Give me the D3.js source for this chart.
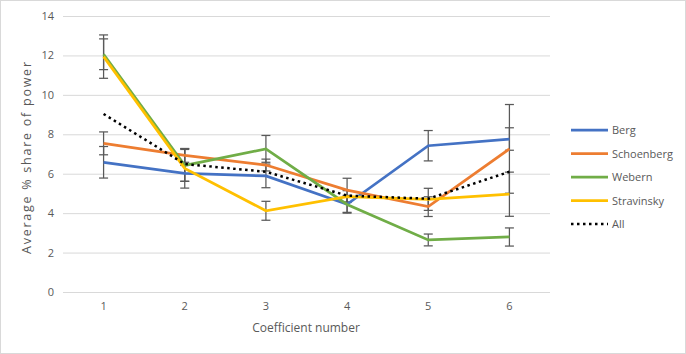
<!DOCTYPE html>
<html>
<head>
<meta charset="utf-8">
<script src="https://cdn.jsdelivr.net/npm/d3@7"></script>
<style>
  body { margin: 0; background: #fff; }
  text { font-family: "Open Sans", sans-serif; fill: #595959; }
</style>
</head>
<body>
<svg width="686" height="354"></svg>
<script>
var categories = [1, 2, 3, 4, 5, 6];
var yTicks = [0, 2, 4, 6, 8, 10, 12, 14];

var berg       = [6.58, 6.02, 5.89, 4.45, 7.42, 7.76];
var schoenberg = [7.54, 6.93, 6.44, 5.17, 4.33, 7.26];
var webern     = [12.06, 6.42, 7.26, 4.44, 2.64, 2.79];
var stravinsky = [11.94, 6.27, 4.12, 4.84, 4.70, 4.96];
var all        = [9.03, 6.49, 6.10, 4.89, 4.73, 6.10];

var bergErr       = [0.80, 0.40, 0.60, 0.45, 0.77, 0.57];
var schoenbergErr = [0.58, 0.35, 0.30, 0.60, 0.50, 2.25];
var webernErr     = [0.78, 0.81, 0.68, 0.40, 0.30, 0.46];
var stravinskyErr = [1.10, 1.00, 0.48, 0.30, 0.56, 1.12];

var seriesNames = ["Berg", "Schoenberg", "Webern", "Stravinsky", "All"];
var colors = ["#4472c4", "#ed7d31", "#70ad47", "#ffc000", "#000000"];

var series = [
  { name: "Berg", values: berg, err: bergErr },
  { name: "Schoenberg", values: schoenberg, err: schoenbergErr },
  { name: "Webern", values: webern, err: webernErr },
  { name: "Stravinsky", values: stravinsky, err: stravinskyErr },
  { name: "All", values: all, err: null }
];

var svg = d3.select("svg"),
  width = +svg.attr("width"),
  height = +svg.attr("height");

svg.append("rect")
  .attr("x", 0.5).attr("y", 0.5)
  .attr("width", width - 1).attr("height", height - 1)
  .attr("fill", "#fff").attr("stroke", "#d9d9d9");

var x = d3.scaleBand().domain(categories).range([63, 550]);
var y = d3.scaleLinear().domain([0, 14]).range([292, 16]);
var color = d3.scaleOrdinal().domain(seriesNames).range(colors);

// gridlines
svg.append("g")
  .selectAll("line")
  .data(yTicks)
  .enter()
  .append("line")
  .attr("x1", 63).attr("x2", 550)
  .attr("y1", function (d) { return y(d) + 0.5; })
  .attr("y2", function (d) { return y(d) + 0.5; })
  .attr("stroke", "#d9d9d9")
  .attr("stroke-width", 1);

var yAxis = svg.append("g")
  .attr("transform", "translate(63,0)")
  .call(d3.axisLeft(y).tickValues(yTicks).tickSize(0).tickPadding(9));
yAxis.select(".domain").remove();
yAxis.selectAll("text").attr("font-size", 11).attr("fill", "#595959")
  .style("font-family", "'Open Sans', sans-serif");

var xAxis = svg.append("g")
  .attr("transform", "translate(0,292)")
  .call(d3.axisBottom(x).tickSize(0).tickPadding(10));
xAxis.select(".domain").remove();
xAxis.selectAll("text").attr("font-size", 11).attr("fill", "#595959")
  .style("font-family", "'Open Sans', sans-serif");

svg.append("text")
  .attr("x", 306).attr("y", 332)
  .attr("text-anchor", "middle")
  .attr("font-size", 12)
  .text("Coefficient number");

svg.append("text")
  .attr("transform", "translate(31,158) rotate(-90)")
  .attr("text-anchor", "middle")
  .attr("font-size", 12.5)
  .attr("textLength", 192)
  .attr("lengthAdjust", "spacing")
  .text("Average %  share of power");

var cx = function (i) { return x(categories[i]) + x.bandwidth() / 2; };

var line = d3.line()
  .x(function (d, i) { return cx(i); })
  .y(function (d) { return y(d); });

// error bars
var errs = [];
series.forEach(function (s) {
  if (!s.err) return;
  s.values.forEach(function (v, i) {
    errs.push({ i: i, lo: v - s.err[i], hi: v + s.err[i] });
  });
});

var eb = svg.append("g")
  .attr("stroke", "#595959")
  .attr("stroke-width", 1.25)
  .selectAll("g")
  .data(errs)
  .enter()
  .append("g");

eb.append("line")
  .attr("x1", function (d) { return cx(d.i); })
  .attr("x2", function (d) { return cx(d.i); })
  .attr("y1", function (d) { return y(d.lo); })
  .attr("y2", function (d) { return y(d.hi); });
eb.append("line")
  .attr("x1", function (d) { return cx(d.i) - 4.5; })
  .attr("x2", function (d) { return cx(d.i) + 4.5; })
  .attr("y1", function (d) { return y(d.lo); })
  .attr("y2", function (d) { return y(d.lo); });
eb.append("line")
  .attr("x1", function (d) { return cx(d.i) - 4.5; })
  .attr("x2", function (d) { return cx(d.i) + 4.5; })
  .attr("y1", function (d) { return y(d.hi); })
  .attr("y2", function (d) { return y(d.hi); });

svg.append("g")
  .selectAll("path")
  .data(series)
  .enter()
  .append("path")
  .attr("d", function (d) { return line(d.values); })
  .attr("fill", "none")
  .attr("stroke", function (d) { return color(d.name); })
  .attr("stroke-width", function (d) { return d.name == "All" ? 2.5 : 2.75; })
  .attr("stroke-dasharray", function (d) { return d.name == "All" ? "2.5,3.5" : null; });

// legend
var legend = svg.append("g")
  .selectAll("g")
  .data(seriesNames)
  .enter()
  .append("g")
  .attr("transform", function (d, i) { return "translate(571," + (130 + i * 23.5) + ")"; });

legend.append("line")
  .attr("x1", 0).attr("x2", 37)
  .attr("stroke", function (d) { return color(d); })
  .attr("stroke-width", function (d) { return d == "All" ? 2.5 : 2.75; })
  .attr("stroke-dasharray", function (d) { return d == "All" ? "2.5,3.5" : null; });

legend.append("text")
  .attr("x", 41).attr("y", 4)
  .attr("font-size", 11)
  .text(function (d) { return d; });
</script>
</body>
</html>
